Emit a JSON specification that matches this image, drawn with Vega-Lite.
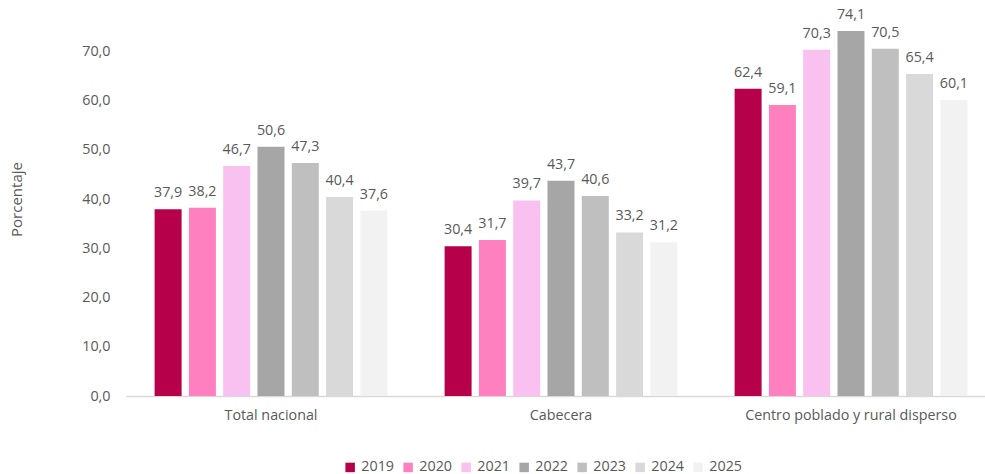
{
  "$schema": "https://vega.github.io/schema/vega-lite/v6.json",
  "autosize": {"type": "none"},
  "width": 858,
  "height": 394,
  "padding": {"left": 126, "top": 2, "right": 1, "bottom": 78},
  "background": "white",
  "config": {
    "locale": {"number": {"decimal": ",", "thousands": ".", "grouping": [3], "currency": ["", " €"]}},
    "view": {"stroke": null},
    "font": "Open Sans",
    "text": {"font": "Open Sans"}
  },
  "data": {
    "values": [
      {"area": "Total nacional", "year": "2019", "value": 37.9},
      {"area": "Total nacional", "year": "2020", "value": 38.2},
      {"area": "Total nacional", "year": "2021", "value": 46.7},
      {"area": "Total nacional", "year": "2022", "value": 50.6},
      {"area": "Total nacional", "year": "2023", "value": 47.3},
      {"area": "Total nacional", "year": "2024", "value": 40.4},
      {"area": "Total nacional", "year": "2025", "value": 37.6},
      {"area": "Cabecera", "year": "2019", "value": 30.4},
      {"area": "Cabecera", "year": "2020", "value": 31.7},
      {"area": "Cabecera", "year": "2021", "value": 39.7},
      {"area": "Cabecera", "year": "2022", "value": 43.7},
      {"area": "Cabecera", "year": "2023", "value": 40.6},
      {"area": "Cabecera", "year": "2024", "value": 33.2},
      {"area": "Cabecera", "year": "2025", "value": 31.2},
      {"area": "Centro poblado y rural disperso", "year": "2019", "value": 62.4},
      {"area": "Centro poblado y rural disperso", "year": "2020", "value": 59.1},
      {"area": "Centro poblado y rural disperso", "year": "2021", "value": 70.3},
      {"area": "Centro poblado y rural disperso", "year": "2022", "value": 74.1},
      {"area": "Centro poblado y rural disperso", "year": "2023", "value": 70.5},
      {"area": "Centro poblado y rural disperso", "year": "2024", "value": 65.4},
      {"area": "Centro poblado y rural disperso", "year": "2025", "value": 60.1}
    ]
  },
  "encoding": {
    "x": {
      "field": "area", "type": "nominal",
      "sort": ["Total nacional", "Cabecera", "Centro poblado y rural disperso"],
      "scale": {"range": [0, 870], "paddingInner": 0, "paddingOuter": 0},
      "axis": {
        "title": null, "labelAngle": 0, "ticks": false, "labelLimit": 0,
        "domainColor": "#D9D9D9", "domainWidth": 1.5,
        "labelFont": "Open Sans", "labelFontSize": 14.3, "labelColor": "#595959",
        "labelPadding": 12
      }
    },
    "xOffset": {
      "field": "year", "type": "nominal",
      "scale": {"paddingInner": 0.213, "paddingOuter": 0.834}
    },
    "y": {
      "field": "value", "type": "quantitative",
      "scale": {"domain": [0, 80], "nice": false},
      "axis": {
        "title": "Porcentaje", "values": [0, 10, 20, 30, 40, 50, 60, 70],
        "format": ".1f", "grid": false, "domain": false, "ticks": false,
        "labelFont": "Open Sans", "labelFontSize": 14.3, "labelColor": "#595959",
        "labelPadding": 16,
        "titleFont": "Open Sans", "titleFontSize": 15, "titleFontWeight": "normal",
        "titleColor": "#595959", "titlePadding": 57
      }
    }
  },
  "layer": [
    {
      "mark": {"type": "bar"},
      "encoding": {
        "color": {
          "field": "year", "type": "nominal",
          "scale": {
            "domain": ["2019", "2020", "2021", "2022", "2023", "2024", "2025"],
            "range": ["#B6004A", "#FF80BF", "#F9C1F0", "#A6A6A6", "#BFBFBF", "#D9D9D9", "#F2F2F2"]
          },
          "legend": {
            "title": null, "orient": "none", "direction": "horizontal", "columns": 7,
            "legendX": 217, "legendY": 458,
            "symbolType": "square", "symbolSize": 90, "symbolStrokeWidth": 0,
            "labelFont": "Open Sans", "labelFontSize": 14.3, "labelColor": "#595959",
            "labelOffset": 4, "columnPadding": 7
          }
        }
      }
    },
    {
      "mark": {"type": "text", "baseline": "alphabetic", "dy": -12, "fontSize": 14.3, "color": "#595959", "font": "Open Sans"},
      "encoding": {
        "text": {"field": "value", "type": "quantitative", "format": ".1f"}
      }
    }
  ]
}
